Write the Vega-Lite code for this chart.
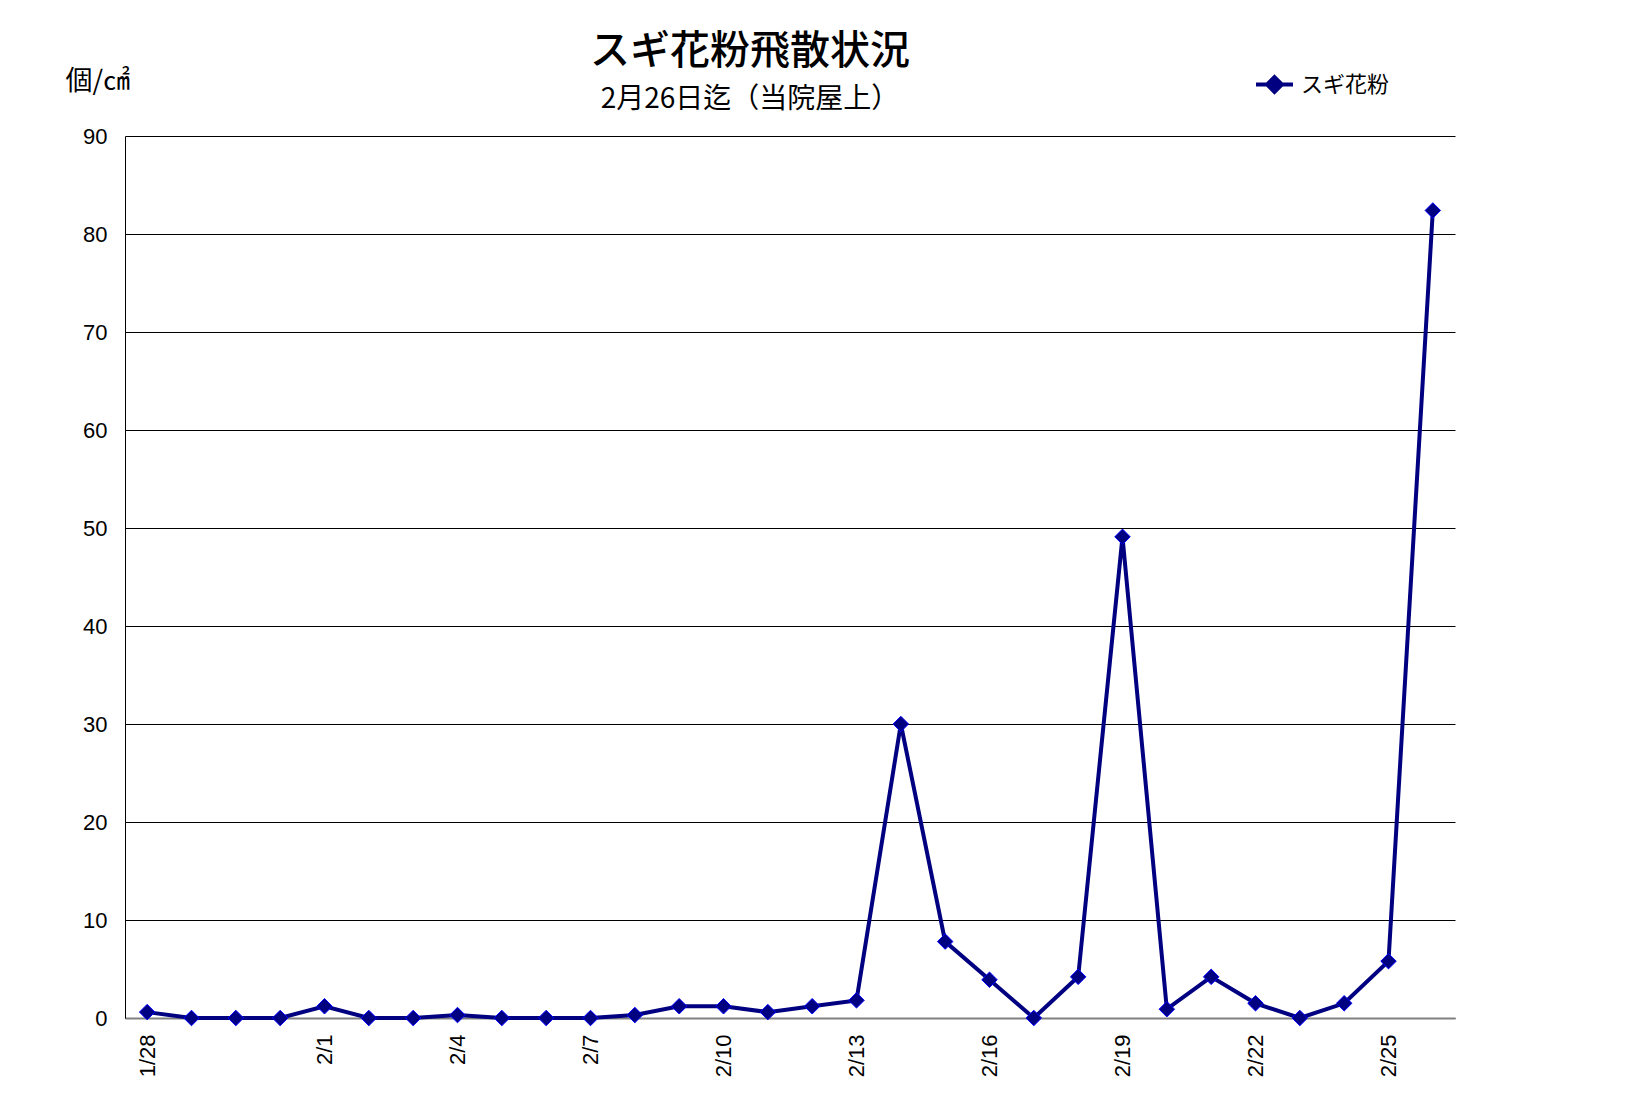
{
  "$schema": "https://vega.github.io/schema/vega-lite/v6.json",
  "width": 1330,
  "height": 882,
  "autosize": {"type": "none"},
  "padding": {"left": 125, "top": 136, "right": 191, "bottom": 78},
  "background": "white",
  "title": {
    "text": "スギ花粉飛散状況",
    "subtitle": "2月26日迄（当院屋上）",
    "anchor": "middle",
    "frame": "group",
    "dx": -40,
    "dy": 72,
    "offset": 22,
    "font": "Noto Sans CJK JP",
    "fontSize": 40,
    "fontWeight": 500,
    "color": "#000000",
    "subtitleFont": "Noto Sans CJK JP",
    "subtitleFontSize": 28,
    "subtitleFontWeight": "normal",
    "subtitleColor": "#000000",
    "subtitlePadding": 14
  },
  "config": {
    "view": {"stroke": null},
    "axis": {"labelColor": "#000000", "titleColor": "#000000"}
  },
  "data": {
    "values": [
      {"date": "1/28", "count": 0.6},
      {"date": "1/29", "count": 0},
      {"date": "1/30", "count": 0},
      {"date": "1/31", "count": 0},
      {"date": "2/1", "count": 1.2},
      {"date": "2/2", "count": 0},
      {"date": "2/3", "count": 0},
      {"date": "2/4", "count": 0.3},
      {"date": "2/5", "count": 0},
      {"date": "2/6", "count": 0},
      {"date": "2/7", "count": 0},
      {"date": "2/8", "count": 0.3},
      {"date": "2/9", "count": 1.2},
      {"date": "2/10", "count": 1.2},
      {"date": "2/11", "count": 0.6},
      {"date": "2/12", "count": 1.2},
      {"date": "2/13", "count": 1.8},
      {"date": "2/14", "count": 30.0},
      {"date": "2/15", "count": 7.8},
      {"date": "2/16", "count": 3.9},
      {"date": "2/17", "count": 0},
      {"date": "2/18", "count": 4.2},
      {"date": "2/19", "count": 49.1},
      {"date": "2/20", "count": 0.9},
      {"date": "2/21", "count": 4.2},
      {"date": "2/22", "count": 1.5},
      {"date": "2/23", "count": 0},
      {"date": "2/24", "count": 1.5},
      {"date": "2/25", "count": 5.8},
      {"date": "2/26", "count": 82.4}
    ]
  },
  "encoding": {
    "x": {
      "field": "date",
      "type": "ordinal",
      "sort": null,
      "scale": {"type": "point", "padding": 0.5},
      "axis": {
        "title": null,
        "values": ["1/28", "2/1", "2/4", "2/7", "2/10", "2/13", "2/16", "2/19", "2/22", "2/25"],
        "labelAngle": -90,
        "labelFont": "Liberation Sans",
        "labelFontSize": 22,
        "labelPadding": 16,
        "ticks": false,
        "grid": false,
        "domainColor": "#808080",
        "domainWidth": 2
      }
    },
    "y": {
      "field": "count",
      "type": "quantitative",
      "scale": {"domain": [0, 90], "nice": false},
      "axis": {
        "values": [0, 10, 20, 30, 40, 50, 60, 70, 80, 90],
        "title": "個/㎠",
        "titleAngle": 0,
        "titleAlign": "left",
        "titleBaseline": "middle",
        "titleX": -60,
        "titleY": -55,
        "titleFont": "Noto Sans CJK JP",
        "titleFontSize": 27,
        "titleFontWeight": "normal",
        "labelFont": "Liberation Sans",
        "labelFontSize": 22,
        "labelPadding": 18,
        "ticks": false,
        "grid": true,
        "gridColor": "#000000",
        "gridWidth": 1,
        "gridOpacity": 1,
        "domainColor": "#000000",
        "domainWidth": 1
      }
    }
  },
  "layer": [
    {
      "mark": {"type": "line", "strokeWidth": 4},
      "encoding": {
        "color": {
          "datum": "スギ花粉",
          "scale": {"range": ["#000080"]},
          "legend": {
            "title": null,
            "orient": "none",
            "legendX": 1129,
            "legendY": -72,
            "padding": 0,
            "symbolType": "M-1,0L1,0M0,-0.4L0.4,0L0,0.4L-0.4,0Z",
            "symbolSize": 1369,
            "symbolStrokeWidth": 4,
            "symbolFillColor": "#000080",
            "symbolStrokeColor": "#000080",
            "symbolOffset": 0,
            "labelFont": "Noto Sans CJK JP",
            "labelFontSize": 22,
            "labelColor": "#000000",
            "labelOffset": 6
          }
        }
      }
    },
    {
      "mark": {
        "type": "point",
        "shape": "diamond",
        "filled": true,
        "size": 240,
        "fill": "#000080",
        "stroke": "#0000ff",
        "strokeWidth": 1,
        "opacity": 1
      }
    }
  ]
}
